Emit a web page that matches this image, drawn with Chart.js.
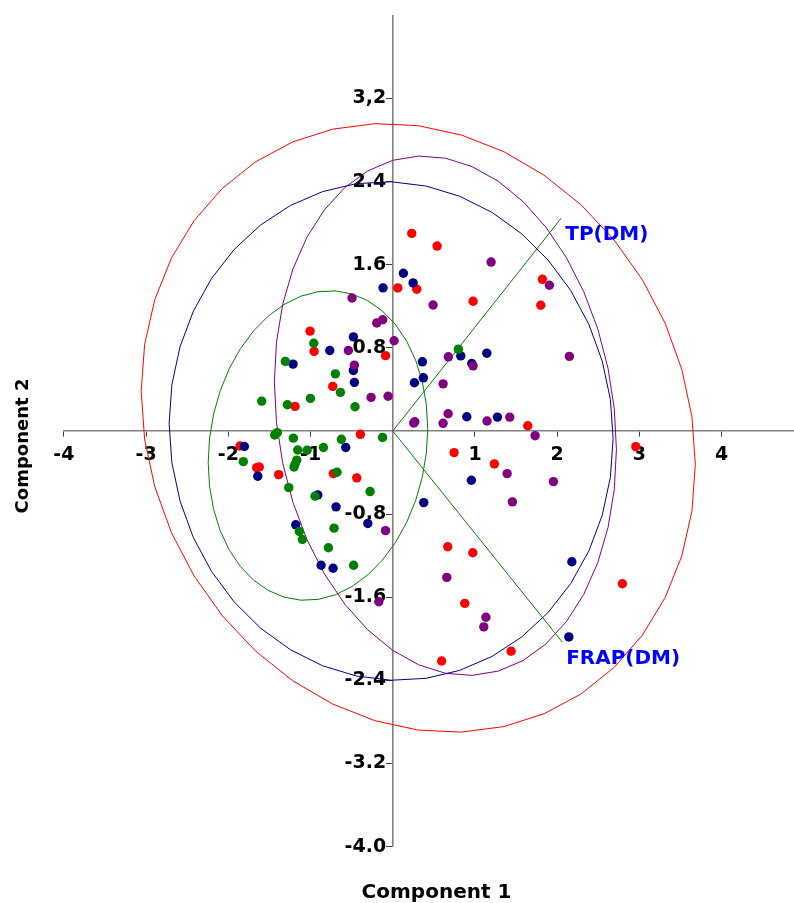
<!DOCTYPE html>
<html>
<head>
<meta charset="utf-8">
<script src="https://cdn.jsdelivr.net/npm/chart.js@4.4.1/dist/chart.umd.min.js"></script>
<style>
  html, body { margin: 0; padding: 0; background: #ffffff; }
  #wrap { width: 794px; height: 903px; position: relative; }
</style>
</head>
<body>
<div id="wrap"><canvas id="c" width="794" height="903"></canvas></div>
<script>
// ---------- data ----------
const redX = [0.231,0.539,0.061,0.292,1.820,1.800,0.977,-1.006,-0.957,-0.088,-0.730,-1.189,-0.394,-1.858,-1.655,-1.623,-1.387,-0.723,-0.438,1.642,2.956,0.746,1.236,0.669,0.973,2.793,0.876,1.439,0.594];
const redY = [1.902,1.780,1.377,1.364,1.460,1.210,1.249,0.961,0.766,0.725,0.429,0.237,-0.032,-0.144,-0.353,-0.346,-0.420,-0.410,-0.451,0.051,-0.151,-0.208,-0.317,-1.114,-1.172,-1.470,-1.659,-2.120,-2.214];

const blueX = [0.129,0.247,-0.118,-0.479,-0.766,-1.213,-0.479,-0.467,0.263,0.360,0.372,0.827,1.144,0.961,0.900,1.273,-0.572,-1.805,-1.642,-0.912,-0.690,-0.304,-1.180,-0.872,-0.726,0.956,0.377,2.178,2.141];
const blueY = [1.518,1.425,1.378,0.906,0.775,0.644,0.583,0.468,0.464,0.666,0.512,0.723,0.749,0.650,0.137,0.134,-0.159,-0.149,-0.435,-0.615,-0.730,-0.890,-0.903,-1.292,-1.321,-0.474,-0.689,-1.258,-1.982];

const purpleX = [1.196,1.905,0.490,-0.495,-0.195,-0.122,0.016,-0.540,-0.467,-0.264,-0.057,0.676,0.977,2.148,0.612,0.673,0.255,0.268,0.612,1.147,1.423,1.731,1.391,1.954,1.455,-0.088,0.657,1.133,1.107,-0.170];
const purpleY = [1.626,1.403,1.213,1.280,1.040,1.071,0.869,0.775,0.634,0.324,0.334,0.714,0.627,0.718,0.454,0.166,0.077,0.089,0.074,0.096,0.134,-0.045,-0.410,-0.487,-0.682,-0.959,-1.409,-1.793,-1.885,-1.643];

const greenX = [0.798,-0.961,-1.307,-0.698,-0.637,-1.594,-1.282,-1.002,-0.459,-1.436,-1.404,-1.209,-0.625,-0.124,-0.844,-1.156,-1.043,-1.818,-1.168,-1.189,-1.201,-0.678,-1.265,-0.276,-0.945,-1.136,-1.100,-0.714,-0.783,-0.477];
const greenY = [0.788,0.845,0.670,0.550,0.372,0.288,0.253,0.314,0.233,-0.038,-0.016,-0.069,-0.080,-0.062,-0.159,-0.183,-0.185,-0.295,-0.281,-0.320,-0.346,-0.397,-0.545,-0.583,-0.627,-0.967,-1.044,-0.935,-1.124,-1.292];

// confidence ellipses: red, blue, purple, green
const ellipseCx = [0.31, -0.02, 0.64, -0.91];
const ellipseCy = [0.03, 0.00, 0.147, -0.14];
const ellipseRx = [3.37, 2.70, 2.08, 1.335];
const ellipseRy = [2.93, 2.40, 2.50, 1.49];
const ellipseCorr = [-0.12, -0.03, -0.13, 0.11];

// loading vectors
const vectorNames = ['TP(DM)', 'FRAP(DM)'];
const vectorX = [2.05, 2.06];
const vectorY = [2.05, -2.03];

// axes
const xTickValues = [-4, -3, -2, -1, 1, 2, 3, 4];
const xTickLabels = ['-4', '-3', '-2', '-1', '1', '2', '3', '4'];
const yTickValues = [-4.0, -3.2, -2.4, -1.6, -0.8, 0.8, 1.6, 2.4, 3.2];
const yTickLabels = ['-4.0', '-3.2', '-2.4', '-1.6', '-0.8', '0.8', '1.6', '2.4', '3,2'];
const xTitle = 'Component 1';
const yTitle = 'Component 2';

// ---------- build ----------
const COLORS = { red: '#ff0000', blue: '#000080', purple: '#800080', green: '#008000' };
const ellipseColors = [COLORS.red, COLORS.blue, COLORS.purple, COLORS.green];
const ELLIPSE_STEPS = 40;

function pairs(xs, ys) { return xs.map((v, i) => ({ x: v, y: ys[i] })); }

function ellipsePoints(i) {
  const pts = [];
  const r = ellipseCorr[i];
  const s = Math.sqrt(1 - r * r);
  for (let k = 0; k <= ELLIPSE_STEPS; k++) {
    const t = 2 * Math.PI * k / ELLIPSE_STEPS;
    pts.push({
      x: ellipseCx[i] + ellipseRx[i] * Math.cos(t),
      y: ellipseCy[i] + ellipseRy[i] * (r * Math.cos(t) + s * Math.sin(t))
    });
  }
  return pts;
}

function pointSet(label, xs, ys, color, order) {
  return {
    label, data: pairs(xs, ys), showLine: false,
    pointRadius: 4.7, pointHoverRadius: 4.7, pointBorderWidth: 0,
    backgroundColor: color, borderColor: color, order
  };
}

const datasets = [
  pointSet('Green group', greenX, greenY, COLORS.green, 0),
  pointSet('Purple group', purpleX, purpleY, COLORS.purple, 1),
  pointSet('Blue group', blueX, blueY, COLORS.blue, 2),
  pointSet('Red group', redX, redY, COLORS.red, 3)
];
ellipseColors.forEach((c, i) => {
  datasets.push({
    label: 'Ellipse ' + (i + 1), data: ellipsePoints(i), showLine: true,
    borderColor: c, borderWidth: 1, pointRadius: 0, fill: false, tension: 0, order: 10
  });
});
vectorNames.forEach((n, i) => {
  datasets.push({
    label: n, data: [{ x: 0, y: 0 }, { x: vectorX[i], y: vectorY[i] }], showLine: true,
    borderColor: COLORS.green, borderWidth: 1, pointRadius: 0, order: 9
  });
});

const textPlugin = {
  id: 'biplotText',
  afterDatasetsDraw(chart) {
    const { ctx, scales: { x, y } } = chart;
    ctx.save();
    ctx.fillStyle = '#0000ff';
    ctx.font = 'bold 20px "DejaVu Sans"';
    ctx.textAlign = 'left';
    ctx.textBaseline = 'middle';
    vectorNames.forEach((n, i) => {
      ctx.fillText(n, x.getPixelForValue(vectorX[i]) + 4, y.getPixelForValue(vectorY[i]) + 16.5);
    });
    ctx.fillStyle = '#000000';
    ctx.textAlign = 'center';
    ctx.font = 'bold 20px "DejaVu Sans"';
    ctx.fillText(xTitle, 436.5, 893);
    ctx.translate(23.5, 446);
    ctx.rotate(-Math.PI / 2);
    ctx.font = 'bold 18px "DejaVu Sans"';
    ctx.fillText(yTitle, 0, 0);
    ctx.restore();
  }
};

const tickFont = { family: 'DejaVu Sans', size: 19, weight: 'bold' };

new Chart(document.getElementById('c'), {
  type: 'scatter',
  data: { datasets },
  options: {
    responsive: false,
    devicePixelRatio: 1,
    animation: false,
    layout: { autoPadding: false, padding: { left: 63.9, right: 0, top: 13.8, bottom: 56.4 } },
    plugins: { legend: { display: false }, tooltip: { enabled: false }, title: { display: false } },
    scales: {
      x: {
        type: 'linear', min: -4, max: 4.88,
        position: { y: 0 },
        afterFit(scale) { scale.height = 0; },
        afterBuildTicks(scale) { scale.ticks = xTickValues.map(v => ({ value: v })); },
        grid: { drawOnChartArea: false, drawTicks: true, tickLength: 5, color: '#404040', lineWidth: 1 },
        border: { display: true, color: '#808080', width: 1.6 },
        ticks: {
          autoSkip: false, maxRotation: 0, minRotation: 0, padding: 8,
          color: '#000000', font: tickFont,
          callback: (v, i) => xTickLabels[i]
        }
      },
      y: {
        type: 'linear', min: -4, max: 4,
        position: { x: 0 },
        afterFit(scale) { scale.width = 0; },
        afterBuildTicks(scale) { scale.ticks = yTickValues.map(v => ({ value: v })); },
        grid: { drawOnChartArea: false, drawTicks: true, tickLength: 6, color: '#404040', lineWidth: 1 },
        border: { display: true, color: '#808080', width: 1.6 },
        ticks: {
          autoSkip: false, padding: 4,
          color: '#000000', font: tickFont,
          callback: (v, i) => yTickLabels[i] + ' '
        }
      }
    }
  },
  plugins: [textPlugin]
});
</script>
</body>
</html>
